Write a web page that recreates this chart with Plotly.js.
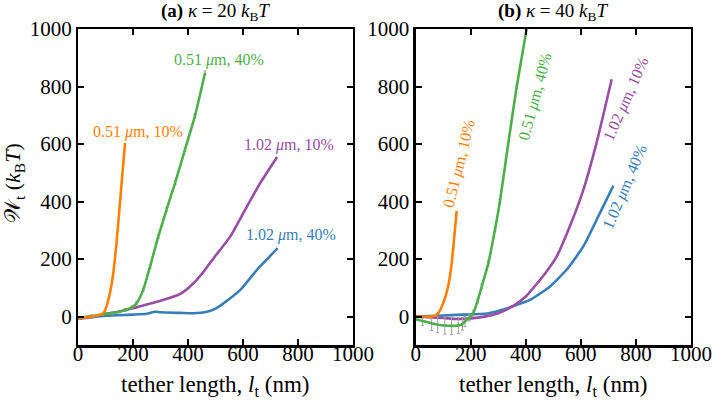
<!DOCTYPE html>
<html><head><meta charset="utf-8">
<script src="https://cdn.plot.ly/plotly-3.0.1.min.js"></script>
<style>html,body{margin:0;padding:0;background:#fff}#p{width:712px;height:402px}</style>
</head><body><div id="p"></div>
<script>
// Panel (a): kappa = 20 kBT
const aOrangeX = [0, 50, 90, 96, 110, 125, 140, 155, 171];
const aOrangeY = [-5, 0, 10, 17, 58, 130, 256, 425, 604];
const aGreenX = [0, 50, 90, 122, 150, 171, 195, 213, 237, 262, 292, 322, 353, 389, 425, 462];
const aGreenY = [-5, 2, 8, 12, 17, 23, 32, 47, 93, 174, 279, 372, 465, 581, 697, 848];
const aGreenErr = [4, 4, 4, 4, 4, 5, 5, 6, 6, 6, 6, 6, 6, 6, 6, 6];
const aPurpleX = [0, 50, 100, 150, 200, 250, 300, 372, 420, 457, 493, 554, 608, 663, 724];
const aPurpleY = [-5, 0, 10, 18, 29, 42, 55, 79, 116, 157, 203, 279, 372, 465, 555];
const aBlueX = [0, 100, 200, 250, 280, 300, 372, 420, 469, 500, 530, 590, 651, 726];
const aBlueY = [-8, 3, 7, 10, 17, 15, 13, 12, 17, 28, 47, 93, 163, 238];

// Panel (b): kappa = 40 kBT
const bOrangeX = [0, 50, 70, 82, 100, 118, 131, 140, 149];
const bOrangeY = [0, 0, 3, 12, 47, 105, 186, 276, 368];
const bGreenX = [0, 25, 58, 80, 106, 130, 155, 170, 179, 195, 209, 225, 240, 264, 288, 306, 336, 367, 403];
const bGreenY = [-9, -15, -23, -28, -31, -32, -31, -25, -17, -3, 12, 55, 105, 186, 302, 400, 600, 800, 1000];
const bGreenErr = [5, 15, 25, 28, 30, 30, 28, 22, 18, 12, 10, 8, 8, 8, 6, 6, 6, 6, 6];
const bPurpleX = [0, 100, 150, 200, 250, 300, 350, 400, 445, 470, 512, 560, 609, 657, 712];
const bPurpleY = [0, -5, -8, -6, 0, 12, 35, 70, 120, 150, 209, 314, 441, 604, 825];
const bBlueX = [0, 100, 200, 250, 300, 350, 415, 488, 548, 609, 669, 718];
const bBlueY = [0, 4, 8, 10, 20, 35, 58, 105, 163, 244, 360, 455];

const xTicks = [0, 200, 400, 600, 800, 1000];
const yTicks = [0, 200, 400, 600, 800, 1000];
const labels = ["0.51 <i>μ</i>m, 10%", "0.51 <i>μ</i>m, 40%", "1.02 <i>μ</i>m, 10%", "1.02 <i>μ</i>m, 40%"];
const aLabelX = [219, 511, 769, 776];
const aLabelY = [643, 891, 596, 285];
const bLabelX = [157, 433, 764, 760];
const bLabelY = [532, 765, 757, 451];
const bLabelAngle = [-76, -75, -66, -67];

const C = {orange: '#ff7f00', green: '#4daf4a', purple: '#984ea3', blue: '#377eb8'};
const colors = [C.orange, C.green, C.purple, C.blue];
const FONT = '"Liberation Serif"';

function line(x, y, color, xa, ya, err) {
  const t = {x: x, y: y, xaxis: xa, yaxis: ya, mode: 'lines', type: 'scatter',
    line: {color: color, width: 2.6, shape: 'spline', smoothing: 0.5}, hoverinfo: 'skip', showlegend: false};
  if (err) t.error_y = {type: 'data', array: err, visible: true, color: '#a0a0a0', thickness: 1, width: 1.5};
  return t;
}

const traces = [
  line(aBlueX, aBlueY, C.blue, 'x', 'y'),
  line(aPurpleX, aPurpleY, C.purple, 'x', 'y'),
  line(aGreenX, aGreenY, C.green, 'x', 'y', aGreenErr),
  line(aOrangeX, aOrangeY, C.orange, 'x', 'y'),
  line(bBlueX, bBlueY, C.blue, 'x2', 'y2'),
  line(bPurpleX, bPurpleY, C.purple, 'x2', 'y2'),
  line(bGreenX, bGreenY, C.green, 'x2', 'y2', bGreenErr),
  line(bOrangeX, bOrangeY, C.orange, 'x2', 'y2'),
];

function axis(domain, range, ticks, anchor, isX) {
  return {domain: domain, range: range, anchor: anchor, tickvals: ticks, ticktext: ticks.map(String),
    ticks: 'inside', ticklen: 6, tickwidth: 2, tickcolor: '#000', mirror: 'ticks',
    showline: true, linewidth: 2.2, linecolor: '#000', showgrid: false, zeroline: false,
    ticklabelstandoff: isX ? -12 : 0,
    tickfont: {family: FONT, size: 21, color: '#000', weight: 'normal'}, fixedrange: true};
}

const yDom = [0.1408, 0.9279];
const layout = {
  width: 712, height: 402, margin: {l: 0, r: 0, t: 0, b: 0},
  paper_bgcolor: '#fff', plot_bgcolor: '#fff', showlegend: false,
  font: {family: FONT, size: 20, color: '#000'},
  xaxis: axis([0.1096, 0.4958], [0, 1000], xTicks, 'y', true),
  yaxis: axis(yDom, [-100, 1000], yTicks, 'x', false),
  xaxis2: axis([0.5838, 0.9705], [0, 1000], xTicks, 'y2', true),
  yaxis2: axis(yDom, [-100, 1000], yTicks, 'x2', false),
  annotations: []
};

const ann = layout.annotations;
function paperText(px, py, text, size, angle) {
  ann.push({xref: 'paper', yref: 'paper', x: px / 712, y: 1 - py / 402, xanchor: 'center', yanchor: 'middle',
    text: text, textangle: angle || 0, showarrow: false,
    font: {family: FONT, size: size, color: '#000', weight: 'normal'}});
}
paperText(215, 12, '<b>(a)</b> <i>κ</i> = 20 <i>k</i><sub>B</sub><i>T</i>', 19);
paperText(553, 12, '<b>(b)</b> <i>κ</i> = 40 <i>k</i><sub>B</sub><i>T</i>', 19);
paperText(215, 386, 'tether length, <i>l</i><sub>t</sub> (nm)', 23);
paperText(553, 386, 'tether length, <i>l</i><sub>t</sub> (nm)', 23);
paperText(14, 183, '𝒲<sub>t</sub> (<i>k</i><sub>B</sub><i>T</i>)', 22, -90);

for (let i = 0; i < 4; i++) {
  ann.push({xref: 'x', yref: 'y', x: aLabelX[i], y: aLabelY[i], xanchor: 'center', yanchor: 'middle',
    text: labels[i], showarrow: false, font: {family: FONT, size: 16, color: colors[i]}});
  ann.push({xref: 'x2', yref: 'y2', x: bLabelX[i], y: bLabelY[i], xanchor: 'center', yanchor: 'middle',
    text: labels[i], showarrow: false, textangle: bLabelAngle[i], font: {family: FONT, size: 16, color: colors[i]}});
}

Plotly.newPlot('p', traces, layout, {staticPlot: true, displayModeBar: false});
</script>
</body></html>
